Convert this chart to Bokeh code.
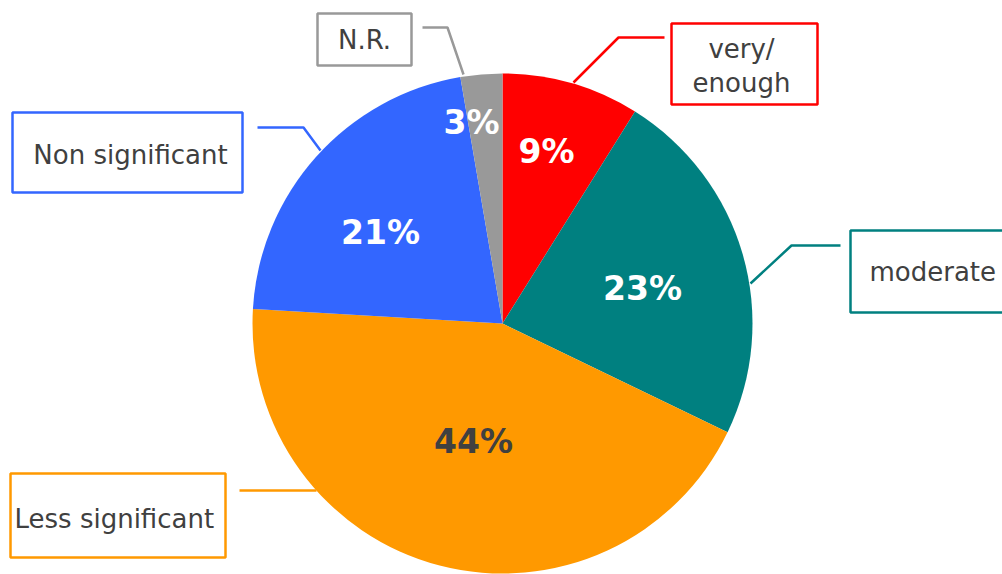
import math
from bokeh.plotting import figure
from bokeh.models import Range1d, ColumnDataSource
from bokeh.core.properties import value
from bokeh.embed import file_html
from bokeh.resources import INLINE

# ---- data ----
categories = ["very/\nenough", "moderate", "Less significant", "Non significant", "N.R."]
shares = [8.9, 23.3, 43.8, 21.4, 2.7]
colors = ["#FF0000", "#008080", "#FF9900", "#3366FF", "#999999"]
pct_colors = ["#FFFFFF", "#FFFFFF", "#404040", "#FFFFFF", "#FFFFFF"]

W, H = 1002, 574
def Y(sy):
    return H - sy

p = figure(width=W, height=H, output_backend="svg", toolbar_location=None,
           x_range=Range1d(0, W), y_range=Range1d(0, H), min_border=0)
p.axis.visible = False
p.grid.visible = False
p.outline_line_color = None
p.background_fill_color = "white"
p.border_fill_color = "white"

cx, cy, r = 502, Y(323), 250
total = sum(shares)
starts, ends = [], []
acc = 0.0
for s in shares:
    a0 = math.pi / 2 - 2 * math.pi * acc / total
    acc += s
    a1 = math.pi / 2 - 2 * math.pi * acc / total
    starts.append(a0)
    ends.append(a1)

src = ColumnDataSource(dict(start=starts, end=ends, color=colors))
p.wedge(x=cx, y=cy, radius=r, start_angle="start", end_angle="end",
        direction="clock", fill_color="color", line_color=None, source=src)

# percentage labels
pct_pos = [(546, 151), (642, 288), (473, 441), (380, 232), (471, 122)]
p.text(x=[q[0] for q in pct_pos], y=[Y(q[1]) for q in pct_pos],
       text=[f"{round(s)}%" for s in shares],
       text_color=pct_colors, text_font=value("DejaVu Sans"),
       text_font_style="bold", text_font_size="33px",
       text_align="center", text_baseline="middle")

# label boxes (left, right, top, bottom in screen px)
boxes = [(671, 817, 23, 104), (850, 1012, 230, 312), (10, 225, 473, 557),
         (12, 242, 112, 192), (317, 411, 13, 65)]
for (l, rr, t, b), c in zip(boxes, colors):
    p.quad(left=l, right=rr, top=Y(t), bottom=Y(b), fill_color="white",
           line_color=c, line_width=2.5)

# leader lines
leaders = [
    [(573, 82), (618, 37), (664, 37)],
    [(750, 283), (791, 245), (840, 245)],
    [(316, 490), (239, 490)],
    [(320, 150), (303, 127), (257, 127)],
    [(463, 74), (447, 27), (422, 27)],
]
for pts, c in zip(leaders, colors):
    p.line(x=[q[0] for q in pts], y=[Y(q[1]) for q in pts], line_color=c, line_width=2.5)

# label texts
txt_font = value("DejaVu Sans")
fs = "26px"
p.text(x=[741, 741], y=[Y(48), Y(82)], text=["very/", "enough"],
       text_color="#404040", text_font=txt_font, text_font_size=fs,
       text_align="center", text_baseline="middle")
p.text(x=[869], y=[Y(271)], text=[categories[1]], text_color="#404040",
       text_font=txt_font, text_font_size=fs, text_align="left", text_baseline="middle")
p.text(x=[14], y=[Y(518)], text=[categories[2]], text_color="#404040",
       text_font=txt_font, text_font_size=fs, text_align="left", text_baseline="middle")
p.text(x=[130], y=[Y(154)], text=[categories[3]], text_color="#404040",
       text_font=txt_font, text_font_size=fs, text_align="center", text_baseline="middle")
p.text(x=[364], y=[Y(39)], text=[categories[4]], text_color="#404040",
       text_font=txt_font, text_font_size=fs, text_align="center", text_baseline="middle")

open("out.html", "w").write(file_html(p, INLINE))
